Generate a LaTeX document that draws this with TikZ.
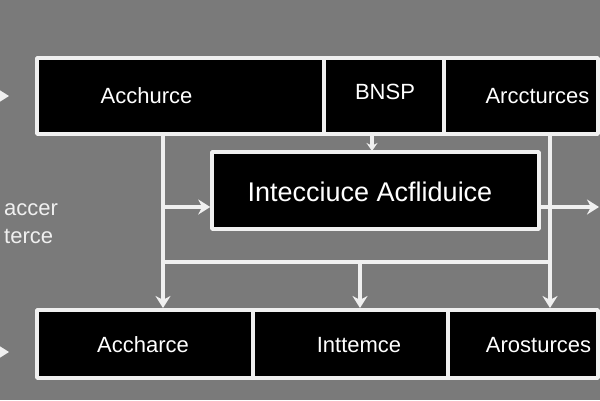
\documentclass[tikz,border=0pt]{standalone}
\usepackage{fontspec}
\setmainfont{Liberation Sans}
\usetikzlibrary{arrows.meta}
\definecolor{panelgray}{RGB}{122,122,122}
\definecolor{wirewhite}{RGB}{240,240,240}
\begin{document}
\begin{tikzpicture}[x=1pt, y=-1pt, line join=round,
  cell/.style={draw=wirewhite, line width=3.5pt, fill=black, inner sep=0pt},
  txt/.style={text=white, font=\fontsize{22}{24}\selectfont, inner sep=0pt},
  wire/.style={draw=wirewhite, line width=3.5pt},
  tip/.style={wire, -{Stealth[length=12pt,width=15pt]}}]
\useasboundingbox[fill=panelgray] (0,0) rectangle (600,400);
\clip (0,0) rectangle (600,400);
% top row
\node[cell, minimum width=287pt, minimum height=76pt] (top1) at (180.5,96) {};
\node[cell, minimum width=120pt, minimum height=76pt] (top2) at (384,96) {};
\node[cell, minimum width=154pt, minimum height=76pt] (top3) at (521,96) {};
% middle box
\node[cell, minimum width=327pt, minimum height=77pt] (mid) at (375.5,190.5) {};
% bottom row
\node[cell, minimum width=216pt, minimum height=68pt] (bot1) at (145,344) {};
\node[cell, minimum width=195pt, minimum height=68pt] (bot2) at (350.5,344) {};
\node[cell, minimum width=150pt, minimum height=68pt] (bot3) at (523,344) {};
% texts
\node[txt] (top1t) at (146.5,96) {Acchurce};
\node[txt] (top2t) at (385,92) {BNSP};
\node[txt] (top3t) at (537.5,96) {Arccturces};
\node[txt, font=\fontsize{27}{29}\selectfont] (midt) at (370,192) {Intecciuce Acfliduice};
\node[txt] (bot1t) at (143,345) {Accharce};
\node[txt] (bot2t) at (359,345) {Inttemce};
\node[txt] (bot3t) at (538.5,345) {Arosturces};
\node[txt, text=wirewhite, align=left, anchor=west, font=\fontsize{22}{28}\selectfont] (side) at (4,224) {accer\\terce};
% bus points
\coordinate (lbus top) at (163,134);
\coordinate (lbus mid) at (163,207);
\coordinate (lbus low) at (163,262);
\coordinate (lbus bot) at (163,308);
\coordinate (rbus top) at (550,134);
\coordinate (rbus low) at (550,262);
\coordinate (rbus bot) at (550,308);
\coordinate (cbus low) at (360,262);
\coordinate (cbus bot) at (360,308);
\coordinate (bnsp out) at (372,134);
\coordinate (bnsp in) at (372,151);
\coordinate (mid out) at (539,207);
\coordinate (right end) at (599,207);
\coordinate (in top) at (-20,96);
\coordinate (in top end) at (9,96);
\coordinate (in bot) at (-20,352);
\coordinate (in bot end) at (9,352);
% connectors
\draw[tip] (lbus top) -- (lbus bot);
\draw[tip] (lbus mid) -- (lbus mid -| mid.west);
\draw[wire] (lbus low) -- (rbus low);
\draw[tip] (rbus top) -- (rbus bot);
\draw[tip] (cbus low) -- (cbus bot);
\draw[tip, -{Stealth[length=8pt,width=11pt]}] (bnsp out) -- (bnsp in);
\draw[tip] (mid out) -- (right end);
\draw[tip] (in top) -- (in top end);
\draw[tip] (in bot) -- (in bot end);
\end{tikzpicture}
\end{document}
